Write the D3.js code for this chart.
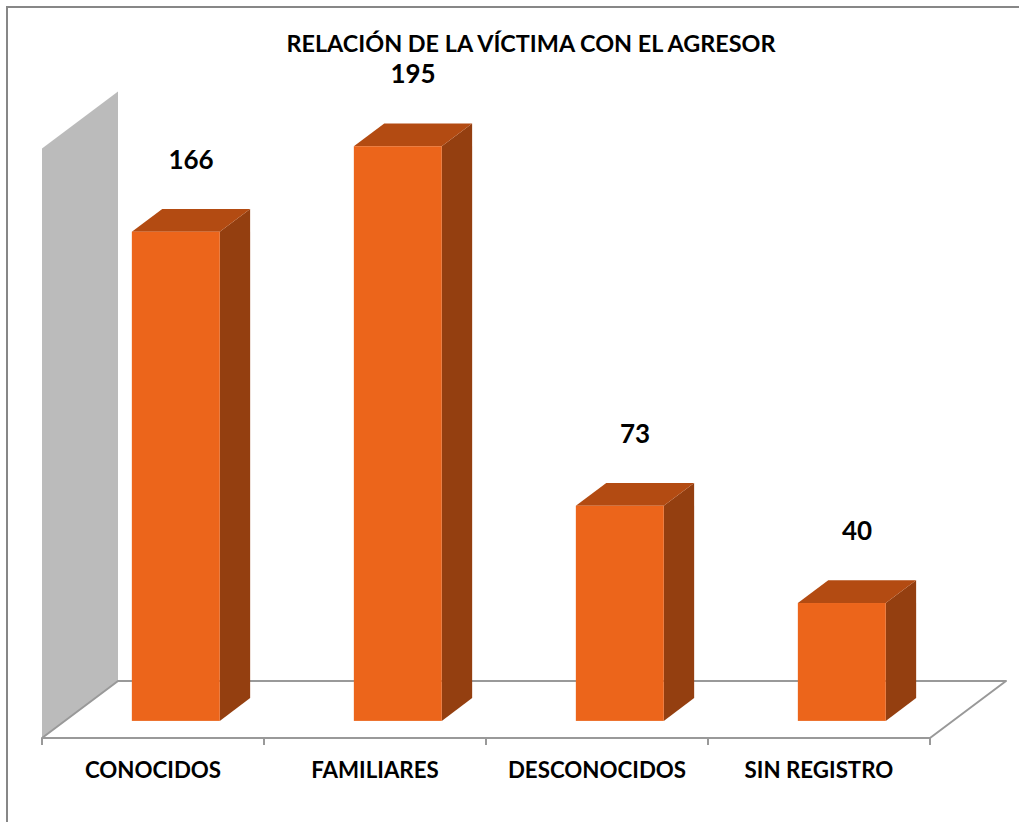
<!DOCTYPE html>
<html>
<head>
<meta charset="utf-8">
<script src="https://cdn.jsdelivr.net/npm/d3@7"></script>
<style>
  body { margin: 0; background: #fff; }
  text { font-family: Lato, "Open Sans", sans-serif; font-weight: bold; fill: #000; }
</style>
</head>
<body>
<div id="chart"></div>
<script>
let w = 1019;
let h = 822;

let categories = ["CONOCIDOS", "FAMILIARES", "DESCONOCIDOS", "SIN REGISTRO"];
let values = [166, 195, 73, 40];
let axisMax = 200;
let title = "RELACIÓN DE LA VÍCTIMA CON EL AGRESOR";

// oblique 3d floor: front edge and depth offset
let frontY = 738;
let left = 42, right = 930;
let depthX = 76, depthY = 57;
let wallH = 589.4;

let svg = d3.select("#chart").append("svg")
    .attr("width", w)
    .attr("height", h);

// chart border
svg.append("rect")
    .attr("x", 7).attr("y", 7)
    .attr("width", w + 20).attr("height", h + 20)
    .attr("fill", "none")
    .attr("stroke", "#878787")
    .attr("stroke-width", 2);

let xScale = d3.scaleBand().domain(categories).range([left, right]);
let hScale = d3.scaleLinear().domain([0, axisMax]).range([0, wallH]);

// back/side wall
svg.append("polygon")
    .attr("points", [
        [left, frontY],
        [left, frontY - hScale(axisMax)],
        [left + depthX, frontY - depthY - hScale(axisMax)],
        [left + depthX, frontY - depthY]
    ].join(" "))
    .attr("fill", "#bbbbbb");

// floor
svg.append("polygon")
    .attr("points", [
        [left, frontY],
        [left + depthX, frontY - depthY],
        [right + depthX, frontY - depthY],
        [right, frontY]
    ].join(" "))
    .attr("fill", "#fff")
    .attr("stroke", "#999")
    .attr("stroke-width", 2)
    .attr("stroke-linejoin", "round");

// ticks
let tickXs = categories.map(c => xScale(c)).concat([right]);
svg.selectAll(".tick").data(tickXs).enter()
    .append("line")
    .attr("x1", d => d).attr("x2", d => d)
    .attr("y1", frontY).attr("y2", frontY + 7)
    .attr("stroke", "#999")
    .attr("stroke-width", 2);

// bars
let f1 = 0.3, f2 = 0.7;
let barW = xScale.bandwidth() * 0.396;
let bdx = (f2 - f1) * depthX, bdy = (f2 - f1) * depthY;

let bars = svg.selectAll(".bar").data(values).enter()
    .append("g")
    .attr("class", "bar");

function geom(d, i) {
    let x0 = xScale(categories[i]) + xScale.bandwidth() / 2 - barW / 2 + f1 * depthX;
    let yb = frontY - f1 * depthY;
    let yt = yb - hScale(d);
    return {x0: x0, x1: x0 + barW, yb: yb, yt: yt};
}

bars.append("polygon")
    .attr("points", (d, i) => {
        let g = geom(d, i);
        return [[g.x1, g.yb], [g.x1, g.yt], [g.x1 + bdx, g.yt - bdy], [g.x1 + bdx, g.yb - bdy]].join(" ");
    })
    .attr("fill", "#943f10");

bars.append("polygon")
    .attr("points", (d, i) => {
        let g = geom(d, i);
        return [[g.x0, g.yt], [g.x0 + bdx, g.yt - bdy], [g.x1 + bdx, g.yt - bdy], [g.x1, g.yt]].join(" ");
    })
    .attr("fill", "#b34b12");

bars.append("rect")
    .attr("x", (d, i) => geom(d, i).x0)
    .attr("y", (d, i) => geom(d, i).yt)
    .attr("width", barW)
    .attr("height", d => hScale(d))
    .attr("fill", "#ec651b");

// value labels
bars.append("text")
    .attr("x", (d, i) => xScale(categories[i]) + xScale.bandwidth() / 2 + 38)
    .attr("y", (d, i) => geom(d, i).yt - 63)
    .attr("text-anchor", "middle")
    .attr("font-size", 26)
    .text(d => d);

// category labels
svg.selectAll(".cat").data(categories).enter()
    .append("text")
    .attr("x", d => xScale(d) + xScale.bandwidth() / 2)
    .attr("y", 778)
    .attr("text-anchor", "middle")
    .attr("font-size", 22.3)
    .text(d => d);

// title
svg.append("text")
    .attr("x", 531)
    .attr("y", 52)
    .attr("text-anchor", "middle")
    .attr("font-size", 23.4)
    .text(title);
</script>
</body>
</html>
